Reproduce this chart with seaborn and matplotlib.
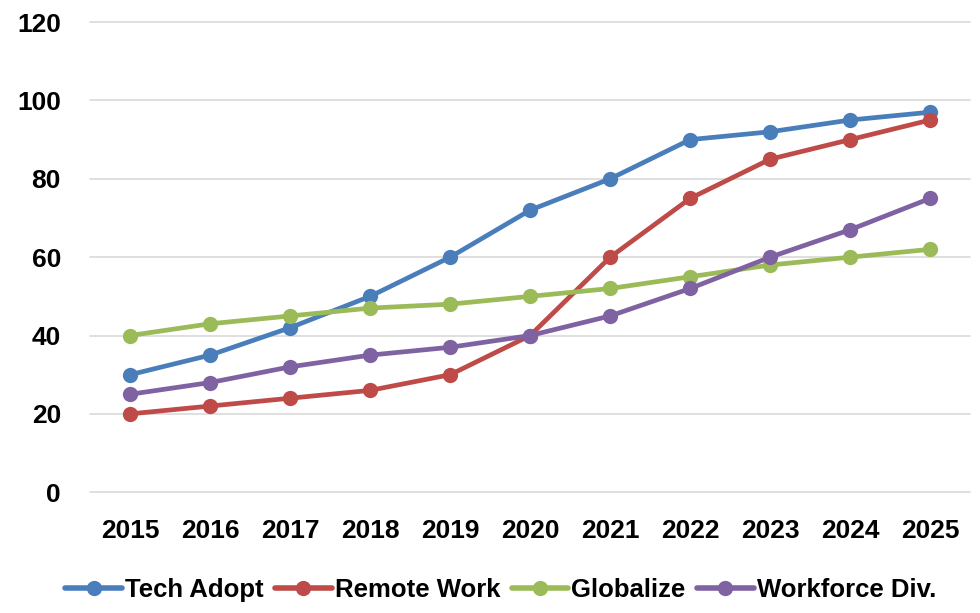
import matplotlib
matplotlib.use("Agg")
import matplotlib.pyplot as plt
import seaborn as sns
import pandas as pd

years = [2015, 2016, 2017, 2018, 2019, 2020, 2021, 2022, 2023, 2024, 2025]
tech_adopt = [30, 35, 42, 50, 60, 72, 80, 90, 92, 95, 97]
remote_work = [20, 22, 24, 26, 30, 40, 60, 75, 85, 90, 95]
globalize = [40, 43, 45, 47, 48, 50, 52, 55, 58, 60, 62]
workforce_div = [25, 28, 32, 35, 37, 40, 45, 52, 60, 67, 75]
series_names = ["Tech Adopt", "Remote Work", "Globalize", "Workforce Div."]
colors = ["#4A7EBB", "#BE4B48", "#9BBB59", "#7F62A1"]

df = pd.DataFrame({
    "Year": years * 4,
    "Value": tech_adopt + remote_work + globalize + workforce_div,
    "Series": sum([[n] * len(years) for n in series_names], []),
})

sns.set_theme(style="white")
plt.rcParams['font.family'] = ['Liberation Sans', 'DejaVu Sans']

fig = plt.figure(figsize=(9.8, 6.13), dpi=100)
ax = fig.add_axes([0.092, 0.197, 0.898, 0.767])

sns.lineplot(data=df, x="Year", y="Value", hue="Series", palette=colors,
             hue_order=series_names, marker="o", markersize=11, linewidth=3.4,
             markeredgewidth=0, ax=ax, legend=True)

ax.set_xlim(2014.5, 2025.5)
ax.set_ylim(0, 120)
ax.set_yticks(range(0, 121, 20))
ax.set_xticks(years)
ax.set_xlabel("")
ax.set_ylabel("")
ax.yaxis.grid(True, color="#D9D9D9", linewidth=1.2)
for gl in ax.get_ygridlines():
    gl.set_clip_on(False)
ax.set_axisbelow(True)
for s in ax.spines.values():
    s.set_visible(False)
ax.tick_params(axis="both", length=0, labelsize=19, labelcolor="black")
ax.tick_params(axis="y", pad=21)
ax.tick_params(axis="x", pad=19)
for lab in ax.get_xticklabels() + ax.get_yticklabels():
    lab.set_fontweight("bold")

handles, labels = ax.get_legend_handles_labels()
ax.get_legend().remove()
for h in handles:
    h.set_linewidth(4)
    h.set_markersize(11)
fig.legend(handles, labels, loc="center", bbox_to_anchor=(0.511, 0.038), ncol=4,
           frameon=False, prop={"weight": "bold", "size": 18.5}, labelcolor="black",
           handlelength=2.2, columnspacing=0.45, handletextpad=0.12)

fig.savefig("out.png", dpi=100)
